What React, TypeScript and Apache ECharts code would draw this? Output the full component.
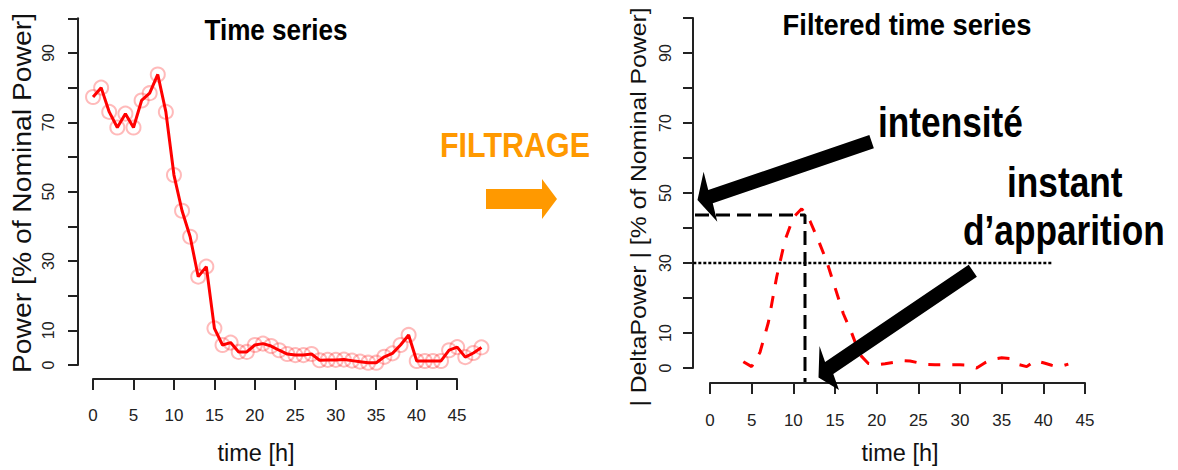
import React, { useEffect, useRef } from "react";
import * as echarts from "echarts";

// ---- data ----
const hours = [0,1,2,3,4,5,6,7,8,9,10,11,12,13,14,15,16,17,18,19,20,21,22,23,24,25,26,27,28,29,30,31,32,33,34,35,36,37,38,39,40,41,42,43,44,45,46,47,48];
const power = [77.3,80,73,68.5,72.5,68.5,76.3,78.4,83.8,73,54.8,44.5,37,25.5,28.4,10.6,5.8,6.5,3.8,3.8,5.8,6.2,5.5,4.3,3.2,2.9,2.9,3.2,1.4,1.5,1.5,1.6,1.3,1,0.7,0.7,2.4,3.4,5.8,8.7,1.2,1.2,1.2,1.2,4.3,5.2,2.3,3.5,5.1];
const filteredHours = [4,5,6,7,8,9,10,11,12,13,14,15,16,17,18,19,20,21,22,23,24,25,26,27,28,29,30,31,32,33,34,35,36,37,38,39,40,41,42,43];
const deltaPower = [1.8,0.4,4.5,13,26,36.5,43,45.5,42,36.5,30.5,23,15.5,10,3.8,1.3,0.9,1.2,1.6,2.1,2.0,1.5,1.0,0.9,0.9,0.9,0.9,0.8,0,1.5,2.5,2.9,2.7,1.0,0.4,2.1,1.5,0.8,0.4,1.1];
const yTickLabels = ["0", "10", "30", "50", "70", "90"];
const peakGuideX = [-1.8, 11.4, 11.4];
const peakGuideY = [43.7, 43.7, -4];
const thresholdX = [-3.8, 41.2];
const thresholdY = [30, 30];
const titles = ["Time series", "Filtered time series"];
const xName = "time [h]";
const yNames = ["Power [% of Nominal Power]", "| DeltaPower | [% of Nominal Power]"];
const annotations = ["FILTRAGE", "intensité", "instant", "d’apparition"];

const FONT = "'Liberation Sans', Arial, Helvetica, sans-serif";
const AX = "#222";

function dataAxes(gridIndex: number, xMin: number, xMax: number) {
  return {
    x: { type: "value", gridIndex, min: xMin, max: xMax, show: false },
    y: { type: "value", gridIndex, min: -4, max: 104, show: false },
  };
}

function frameAxes(gridIndex: number, xOffset: number, yOffset: number, xMargin: number, yMargin: number) {
  return {
    x: {
      type: "value", gridIndex, min: 0, max: 45, interval: 5, offset: xOffset,
      axisLine: { show: true, onZero: false, lineStyle: { color: AX, width: 2 } },
      axisTick: { show: true, length: 11, lineStyle: { color: AX, width: 2 } },
      axisLabel: { margin: xMargin, fontSize: 17, color: AX, fontFamily: FONT },
      splitLine: { show: false },
    },
    y: {
      type: "value", gridIndex, min: 0, max: 100, interval: 10, offset: yOffset,
      axisLine: { show: true, onZero: false, lineStyle: { color: AX, width: 2 } },
      axisTick: { show: true, length: 10, lineStyle: { color: AX, width: 2 } },
      axisLabel: {
        rotate: 90, margin: yMargin, fontSize: 16, color: AX, fontFamily: FONT,
        formatter: (v: number) => (yTickLabels.includes(String(v)) ? String(v) : ""),
      },
      splitLine: { show: false },
    },
  };
}

function arrow(tail: number[], base: number[], tip: number[], w1: number[], w2: number[], half: number) {
  const dx = base[0] - tail[0];
  const dy = base[1] - tail[1];
  const len = Math.hypot(dx, dy);
  const nx = (-dy / len) * half;
  const ny = (dx / len) * half;
  const s = (w1[0] - base[0]) * nx + (w1[1] - base[1]) * ny < 0 ? 1 : -1;
  const ax = nx * s, ay = ny * s;
  return [
    [tail[0] - ax, tail[1] - ay],
    [base[0] - ax, base[1] - ay],
    w1,
    tip,
    w2,
    [base[0] + ax, base[1] + ay],
    [tail[0] + ax, tail[1] + ay],
  ];
}

export default function App() {
  const ref = useRef<HTMLDivElement>(null);

  useEffect(() => {
    if (!ref.current) return;
    const chart = echarts.init(ref.current, undefined, { renderer: "svg" });

    const lD = dataAxes(0, -1.92, 49.92);
    const lF = frameAxes(1, 14, 15, 28, 22);
    const rD = dataAxes(2, -1.8, 46.8);
    const rF = frameAxes(3, 15, 17, 29, 20);

    const powerPts = hours.map((h, i) => [h, power[i]]);
    const deltaPts = filteredHours.map((h, i) => [h, deltaPower[i]]);
    const peakPts = peakGuideX.map((x, i) => [x, peakGuideY[i]]);
    const thrPts = thresholdX.map((x, i) => [x, thresholdY[i]]);

    const option: any = {
      animation: false,
      backgroundColor: "#ffffff",
      grid: [
        { left: 77.5, top: 4.4, width: 419.5, height: 374.6, outerBoundsMode: "none" },
        { left: 93, top: 18.3, width: 364, height: 346.7, outerBoundsMode: "none" },
        { left: 695, top: 4, width: 405, height: 378, outerBoundsMode: "none" },
        { left: 710, top: 18, width: 375, height: 350, outerBoundsMode: "none" },
      ],
      xAxis: [lD.x, lF.x, rD.x, rF.x],
      yAxis: [lD.y, lF.y, rD.y, rF.y],
      series: [
        {
          type: "scatter", xAxisIndex: 0, yAxisIndex: 0, data: powerPts,
          symbol: "circle", symbolSize: 14, z: 2,
          itemStyle: { color: "rgba(255,0,0,0)", borderColor: "rgba(255,30,30,0.38)", borderWidth: 2 },
        },
        {
          type: "line", xAxisIndex: 0, yAxisIndex: 0, data: powerPts, symbol: "none", z: 3,
          lineStyle: { color: "#ff0000", width: 3 },
        },
        {
          type: "line", xAxisIndex: 2, yAxisIndex: 2, data: deltaPts, symbol: "none", z: 3,
          lineStyle: { color: "#ff0000", width: 3, type: [12, 12] },
        },
        {
          type: "line", xAxisIndex: 2, yAxisIndex: 2, data: peakPts, symbol: "none", z: 4, clip: false,
          lineStyle: { color: "#000000", width: 3, type: [14, 7] },
        },
        {
          type: "line", xAxisIndex: 2, yAxisIndex: 2, data: thrPts, symbol: "none", z: 4, clip: false,
          lineStyle: { color: "#000000", width: 2.5, type: [3, 2] },
        },
      ],
      graphic: [
        {
          type: "text", x: 276, y: 30, scaleX: 0.9, z: 10,
          style: { text: titles[0], fontSize: 29, fontWeight: "bold", fontFamily: FONT, fill: "#000", align: "center", verticalAlign: "middle" },
        },
        {
          type: "text", x: 907, y: 25, scaleX: 0.91, z: 10,
          style: { text: titles[1], fontSize: 30, fontWeight: "bold", fontFamily: FONT, fill: "#000", align: "center", verticalAlign: "middle" },
        },
        {
          type: "text", x: 256, y: 453, z: 10,
          style: { text: xName, fontSize: 23.5, fontFamily: FONT, fill: "#111", align: "center", verticalAlign: "middle" },
        },
        {
          type: "text", x: 900, y: 453, z: 10,
          style: { text: xName, fontSize: 23.5, fontFamily: FONT, fill: "#111", align: "center", verticalAlign: "middle" },
        },
        {
          type: "text", x: 22, y: 193, rotation: Math.PI / 2, scaleX: 1.11, z: 10,
          style: { text: yNames[0], fontSize: 25.5, fontFamily: FONT, fill: "#111", align: "center", verticalAlign: "middle" },
        },
        {
          type: "text", x: 638, y: 207, rotation: Math.PI / 2, scaleX: 1.1, z: 10,
          style: { text: yNames[1], fontSize: 22.5, fontFamily: FONT, fill: "#111", align: "center", verticalAlign: "middle" },
        },
        {
          type: "text", x: 440, y: 145, scaleX: 0.87, z: 10,
          style: { text: annotations[0], fontSize: 35, fontWeight: "bold", fontFamily: FONT, fill: "#ff9900", align: "left", verticalAlign: "middle" },
        },
        {
          type: "polygon", z: 10,
          shape: { points: [[486, 189], [542, 189], [542, 179], [557, 199], [542, 219], [542, 209], [486, 209]] },
          style: { fill: "#ff9900" },
        },
        {
          type: "polygon", z: 10,
          shape: { points: arrow([871.6, 141.7], [710.5, 196.7], [697.5, 200], [703.6, 171.7], [717.3, 221.7], 7) },
          style: { fill: "#000" },
        },
        {
          type: "polygon", z: 10,
          shape: { points: arrow([972.8, 270.8], [829.2, 368], [818.5, 377.5], [819.5, 346], [839, 390], 7.3) },
          style: { fill: "#000" },
        },
        {
          type: "text", x: 878, y: 122, scaleX: 0.82, z: 10,
          style: { text: annotations[1], fontSize: 43, fontWeight: "bold", fontFamily: FONT, fill: "#000", align: "left", verticalAlign: "middle" },
        },
        {
          type: "text", x: 1007, y: 182, scaleX: 0.82, z: 10,
          style: { text: annotations[2], fontSize: 43, fontWeight: "bold", fontFamily: FONT, fill: "#000", align: "left", verticalAlign: "middle" },
        },
        {
          type: "text", x: 963, y: 230, scaleX: 0.82, z: 10,
          style: { text: annotations[3], fontSize: 43, fontWeight: "bold", fontFamily: FONT, fill: "#000", align: "left", verticalAlign: "middle" },
        },
      ],
    };

    chart.setOption(option);
    return () => chart.dispose();
  }, []);

  return (
    <div
      ref={ref}
      style={{ position: "fixed", left: 0, top: 0, width: 1178, height: 470, background: "#fff" }}
    />
  );
}
